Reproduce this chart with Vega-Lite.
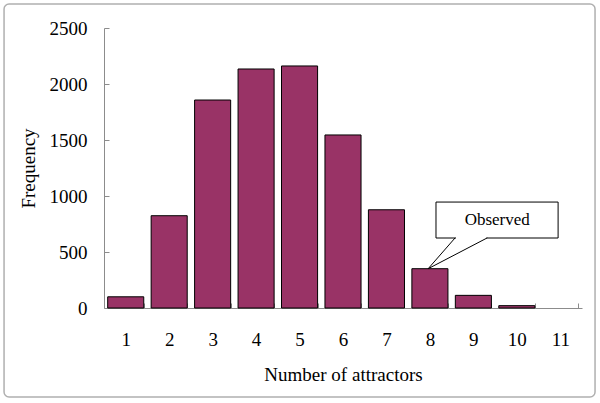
{
  "$schema": "https://vega.github.io/schema/vega-lite/v6.json",
  "autosize": "none",
  "width": 478,
  "height": 280,
  "padding": {"left": 104, "top": 28, "right": 18, "bottom": 95},
  "background": "white",
  "config": {
    "view": {"stroke": null},
    "font": "Liberation Serif",
    "axis": {
      "labelFont": "Liberation Serif",
      "titleFont": "Liberation Serif",
      "labelColor": "black",
      "titleColor": "black",
      "labelFontSize": 19,
      "titleFontSize": 19,
      "titleFontWeight": "normal",
      "domainColor": "#8c8c8c",
      "tickColor": "#8c8c8c",
      "grid": false
    }
  },
  "layer": [
    {
      "data": {"values": [
        {"attractors": 1, "frequency": 100},
        {"attractors": 2, "frequency": 824},
        {"attractors": 3, "frequency": 1857},
        {"attractors": 4, "frequency": 2134},
        {"attractors": 5, "frequency": 2161},
        {"attractors": 6, "frequency": 1545},
        {"attractors": 7, "frequency": 877},
        {"attractors": 8, "frequency": 351},
        {"attractors": 9, "frequency": 113},
        {"attractors": 10, "frequency": 21}
      ]},
      "mark": {"type": "bar", "color": "#993366", "stroke": "black", "strokeWidth": 1},
      "encoding": {
        "x": {
          "field": "attractors", "type": "ordinal",
          "scale": {"domain": [1, 2, 3, 4, 5, 6, 7, 8, 9, 10, 11], "paddingInner": 0.17, "paddingOuter": 0.085},
          "axis": {"title": "Number of attractors", "labelAngle": 0, "tickBand": "extent", "tickSize": -5, "labelPadding": 27, "titlePadding": 16}
        },
        "y": {
          "field": "frequency", "type": "quantitative",
          "scale": {"domain": [0, 2500], "nice": false},
          "axis": {"title": "Frequency", "format": "d", "values": [0, 500, 1000, 1500, 2000, 2500], "tickSize": -5, "labelPadding": 22, "titlePadding": 11}
        }
      }
    },
    {
      "data": {"values": [{"x1": -1.8, "x2": 11.8, "y1": -795, "y2": 2714}]},
      "mark": {"type": "rect", "fill": null, "stroke": "#b0b0b0", "strokeWidth": 1.5, "cornerRadius": 5, "clip": false},
      "encoding": {
        "x": {"field": "x1", "type": "quantitative", "scale": {"domain": [0.5, 11.5], "nice": false, "zero": false}, "axis": null},
        "x2": {"field": "x2"},
        "y": {"field": "y1", "type": "quantitative"},
        "y2": {"field": "y2"}
      }
    },
    {
      "data": {"values": [{"x1": 8.14, "x2": 10.95, "y1": 625, "y2": 946}]},
      "mark": {"type": "rect", "fill": "white", "stroke": "black", "strokeWidth": 1},
      "encoding": {
        "x": {"field": "x1", "type": "quantitative", "scale": {"domain": [0.5, 11.5], "nice": false, "zero": false}, "axis": null},
        "x2": {"field": "x2"},
        "y": {"field": "y1", "type": "quantitative"},
        "y2": {"field": "y2"}
      }
    },
    {
      "data": {"values": [{"x1": 8.6, "x2": 9.3, "y": 625}]},
      "mark": {"type": "rule", "stroke": "white", "strokeWidth": 2},
      "encoding": {
        "x": {"field": "x1", "type": "quantitative", "scale": {"domain": [0.5, 11.5], "nice": false, "zero": false}, "axis": null},
        "x2": {"field": "x2"},
        "y": {"field": "y", "type": "quantitative"}
      }
    },
    {
      "data": {"values": [
        {"px": 8.58, "py": 626, "o": 1},
        {"px": 7.96, "py": 351, "o": 2},
        {"px": 9.32, "py": 626, "o": 3}
      ]},
      "mark": {"type": "line", "stroke": "black", "strokeWidth": 1},
      "encoding": {
        "x": {"field": "px", "type": "quantitative", "scale": {"domain": [0.5, 11.5], "nice": false, "zero": false}, "axis": null},
        "y": {"field": "py", "type": "quantitative"},
        "order": {"field": "o"}
      }
    },
    {
      "data": {"values": [{"x": 9.55, "y": 786, "label": "Observed"}]},
      "mark": {"type": "text", "font": "Liberation Serif", "fontSize": 17, "color": "black", "align": "center", "baseline": "middle"},
      "encoding": {
        "x": {"field": "x", "type": "quantitative", "scale": {"domain": [0.5, 11.5], "nice": false, "zero": false}, "axis": null},
        "y": {"field": "y", "type": "quantitative"},
        "text": {"field": "label"}
      }
    }
  ],
  "resolve": {"scale": {"x": "independent"}}
}
